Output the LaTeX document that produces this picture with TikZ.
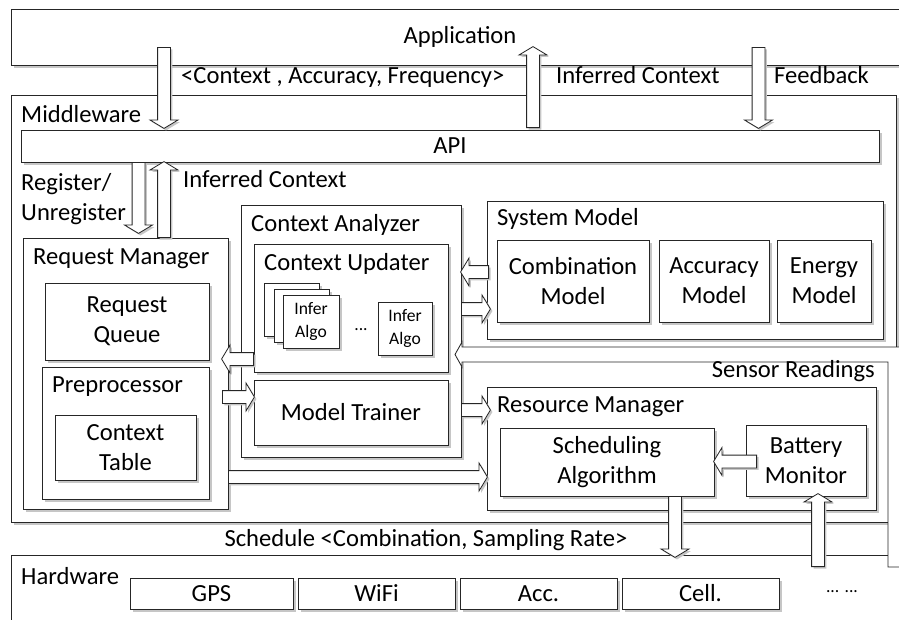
\documentclass[tikz,border=0pt]{standalone}
\usepackage{fontspec}
\setmainfont{Carlito}
\usetikzlibrary{shapes.arrows,shadows,calc}

\tikzset{
  box/.style={draw=black!85, fill=white, inner sep=0pt, line width=0.7pt, align=center,
    drop shadow={shadow xshift=0.8mm, shadow yshift=-0.8mm, fill=gray!45, opacity=1}},
  span/.style n args={4}{minimum width={((#3)-(#1))*0.3mm}, minimum height={((#4)-(#2))*0.3mm},
    at={({((#1)+(#3))/2},{((#2)+(#4))/2})}},
  lbl/.style={inner sep=0pt},
  small/.style={font=\fontsize{15}{19.5}\selectfont},
  fatarrow/.style={single arrow, draw=black!85, fill=white, line width=0.7pt, inner sep=1.8mm,
    single arrow head extend=2.25mm, single arrow tip angle=118,
    minimum height=#1*0.3mm, anchor=tail,
    drop shadow={shadow xshift=0.6mm, shadow yshift=-0.6mm, fill=gray!45, opacity=1}},
}

\begin{document}
\begin{tikzpicture}[x=0.3mm, y=-0.3mm, font=\fontsize{21}{25.5}\selectfont]
    \useasboundingbox (0,0) rectangle (899,620);
    \clip (0,0) rectangle (899,620);
    % layers
    \node[box, span={11}{9}{915}{65}] (app) {};
    \node[lbl] (applbl) at (460,37) {Application};
    \node[box, span={11}{95}{896}{522}] (mw) {};
    \node[lbl, anchor=mid west] (mwlbl) at (21,120) {Middleware};
    \node[box, span={11}{555}{915}{640}] (hw) {};
    \node[lbl, anchor=mid west] (hwlbl) at (21,582) {Hardware};
    % api
    \node[box, span={21}{130}{879}{162}] (api) {API};
    % request manager
    \node[box, span={23}{238}{228}{509}] (reqm) {};
    \node[lbl, anchor=mid west] (reqmlbl) at (33,262) {Request Manager};
    \node[box, span={45}{283}{209}{360}] (queue) {Request\\Queue};
    \node[box, span={42}{367}{209}{499}] (prep) {};
    \node[lbl, anchor=mid west] (preplbl) at (52,390) {Preprocessor};
    \node[box, span={55}{415}{196}{480}] (ctab) {Context\\Table};
    % context analyzer
    \node[box, span={241}{205}{461}{457}] (cana) {};
    \node[lbl, anchor=mid west] (canalbl) at (251,229) {Context Analyzer};
    \node[box, span={254}{244}{448}{372}] (cupd) {};
    \node[lbl, anchor=mid west] (cupdlbl) at (264,268) {Context Updater};
    \foreach \dx/\dy [count=\i] in {0/0, 10/6}
      \node[box, span={264+\dx}{283+\dy}{319+\dx}{336+\dy}] (stack\i) {};
    \node[box, small, span={283}{295}{339}{348}] (algoa) {Infer\\Algo};
    \node[lbl, small] (dots) at (361,330) {...};
    \node[box, small, span={378}{302}{432}{355}] (algob) {Infer\\Algo};
    \node[box, span={254}{380}{448}{445}] (mtrain) {Model Trainer};
    % system model
    \node[box, span={487}{201}{883}{339}] (sysm) {};
    \node[lbl, anchor=mid west] (sysmlbl) at (497,223) {System Model};
    \node[box, span={497}{240}{649}{322}] (comb) {Combination\\Model};
    \node[box, span={659}{240}{769}{322}] (accm) {Accuracy\\Model};
    \node[box, span={777}{240}{871}{322}] (engm) {Energy\\Model};
    % resource manager
    \node[box, span={487}{387}{876}{510}] (resm) {};
    \node[lbl, anchor=mid west] (resmlbl) at (497,410) {Resource Manager};
    \node[box, span={500}{428}{714}{496}] (sched) {Scheduling\\Algorithm};
    \node[box, span={746}{425}{866}{496}] (batt) {Battery\\Monitor};
    % sensors
    \foreach \nm/\xa/\xb [count=\i] in {GPS/130/293, WiFi/298/455, Acc./460/617, Cell./622/779}
      \node[box, span={\xa}{578}{\xb}{609}] (sens\i) {\nm};
    \node[lbl, small] (more) at (842,592) {... ...};
    % sensor readings
    \path[draw=black!85, fill=white, line width=0.7pt] (888,567) -- (888,362) -- (462,362) -- (462,367)
      -- (455,354.5) -- (462,342) -- (462,347) -- (897,347) .. controls (905,347) .. (905,355)
      -- (905,567) -- cycle;
    \node[lbl, anchor=mid east] (senslbl) at (875,375) {Sensor Readings};
    % top labels
    \node[lbl, anchor=mid west] (reqlbl) at (181,81) {<Context , Accuracy, Frequency>};
    \node[lbl, anchor=mid west] (inflbl) at (556,81) {Inferred Context};
    \node[lbl, anchor=mid west] (fblbl) at (774,81) {Feedback};
    \node[lbl, anchor=west, align=left] (reglbl) at (21,199) {Register/\\Unregister};
    \node[lbl, anchor=mid west] (inf2lbl) at (183,185) {Inferred Context};
    \node[lbl] (schedlbl) at (426,540) {Schedule <Combination, Sampling Rate>};
    % arrows
    \node[fatarrow=81, shape border rotate=270] (a1) at (164,47) {};
    \node[fatarrow=81, shape border rotate=90] (a2) at (533,128) {};
    \node[fatarrow=81, shape border rotate=270] (a3) at (758.5,47) {};
    \node[fatarrow=71, shape border rotate=270] (a4) at (138.5,162) {};
    \node[fatarrow=76, shape border rotate=90] (a5) at (164,238) {};
    \node[fatarrow=28, shape border rotate=180] (a6) at (489,272) {};
    \node[fatarrow=29] (a7) at (461,309) {};
    \node[fatarrow=32, shape border rotate=180] (a8) at (254,359) {};
    \node[fatarrow=32] (a9) at (222,397) {};
    \node[fatarrow=29] (a10) at (461,410) {};
    \node[fatarrow=259] (a11) at (228,477) {};
    \node[fatarrow=43, shape border rotate=180] (a12) at (757,461.5) {};
    \node[fatarrow=61, shape border rotate=270] (a13) at (675,496) {};
    \node[fatarrow=73, shape border rotate=90] (a14) at (818,567) {};
\end{tikzpicture}
\end{document}
